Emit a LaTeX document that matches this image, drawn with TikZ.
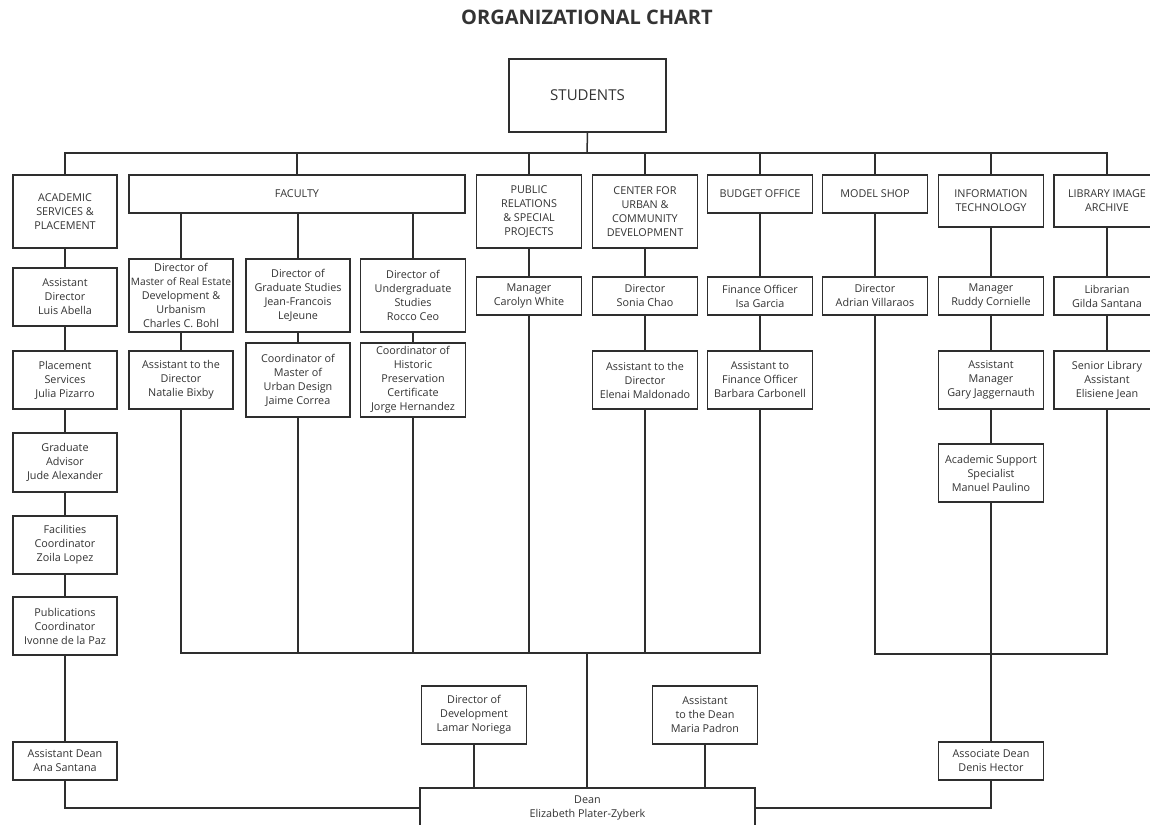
\documentclass[tikz,border=0pt]{standalone}
\usepackage{fontspec}
\setmainfont{Open Sans}
\definecolor{ln}{HTML}{2E2E2E}
\definecolor{tx}{HTML}{333333}
\newcommand\bxfont{\fontsize{10.8}{14}\selectfont}
\newcommand\stfont{\fontsize{15}{18}\selectfont}
\newcommand\ttlfont{\fontsize{20}{24}\selectfont\bfseries}
\tikzset{
  box/.style={draw=ln, line width=1.5pt, fill=white, align=center, inner sep=0pt,
    text=tx, font=\bxfont},
  conn/.style={draw=ln, line width=1.5pt}
}
\begin{document}
\begin{tikzpicture}[x=1pt,y=-1pt]
\useasboundingbox (0,0) rectangle (1150,824);
\clip (0,0) rectangle (1150,824);
\fill[white] (0,0) rectangle (1150,824);

\node[text=tx, font=\ttlfont] (title) at (587,17) {ORGANIZATIONAL CHART};

\coordinate (topbus) at (587,153);
\coordinate (midbus) at (587,653);
\coordinate (rbus) at (991,654);

\node[box, font=\stfont, minimum width=157, minimum height=73] (students) at (587.5,95.5) {STUDENTS};

\node[box, minimum width=104, minimum height=73] (acad) at (65,211.5) {ACADEMIC\\SERVICES \&\\PLACEMENT};
\node[box, minimum width=336, minimum height=38] (faculty) at (297,194) {FACULTY};
\node[box, minimum width=105, minimum height=73] (pr) at (529,211.5) {PUBLIC\\RELATIONS\\\& SPECIAL\\PROJECTS};
\node[box, minimum width=105, minimum height=73] (cud) at (645,211.5) {CENTER FOR\\URBAN \&\\COMMUNITY\\DEVELOPMENT};
\node[box, minimum width=105, minimum height=38] (budget) at (760,194) {BUDGET OFFICE};
\node[box, minimum width=105, minimum height=38] (model) at (875,194) {MODEL SHOP};
\node[box, minimum width=105, minimum height=52] (it) at (991,201) {INFORMATION\\TECHNOLOGY};
\node[box, minimum width=106, minimum height=52] (lib) at (1107,201) {LIBRARY IMAGE\\ARCHIVE};

\node[box, minimum width=104, minimum height=58] (luis) at (65,297) {Assistant\\Director\\Luis Abella};
\node[box, minimum width=104, minimum height=73] (d1) at (181,295.5) {Director of\\{\fontsize{10.2}{14}\selectfont Master of Real Estate}\\Development \&\\Urbanism\\Charles C. Bohl};
\node[box, minimum width=104, minimum height=73] (d2) at (298,295.5) {Director of\\Graduate Studies\\Jean-Francois\\LeJeune};
\node[box, minimum width=105, minimum height=73] (d3) at (413,295.5) {Director of\\Undergraduate\\Studies\\Rocco Ceo};
\node[box, minimum width=105, minimum height=38] (carolyn) at (529,296) {Manager\\Carolyn White};
\node[box, minimum width=105, minimum height=38] (sonia) at (645,296) {Director\\Sonia Chao};
\node[box, minimum width=105, minimum height=38] (isa) at (760,296) {Finance Officer\\Isa Garcia};
\node[box, minimum width=105, minimum height=38] (adrian) at (875,296) {Director\\Adrian Villaraos};
\node[box, minimum width=105, minimum height=38] (ruddy) at (991,296) {Manager\\Ruddy Cornielle};
\node[box, minimum width=106, minimum height=38] (gilda) at (1107,296) {Librarian\\Gilda Santana};

\node[box, minimum width=104, minimum height=58] (julia) at (65,380) {Placement\\Services\\Julia Pizarro};
\node[box, minimum width=104, minimum height=58] (natalie) at (181,380) {Assistant to the\\Director\\Natalie Bixby};
\node[box, minimum width=104, minimum height=74] (coord1) at (298,380) {Coordinator of\\Master of\\Urban Design\\Jaime Correa};
\node[box, minimum width=105, minimum height=74] (coord2) at (413,380) {Coordinator of\\Historic\\Preservation\\Certificate\\Jorge Hernandez};
\node[box, minimum width=105, minimum height=58] (elenai) at (645,380) {Assistant to the\\Director\\Elenai Maldonado};
\node[box, minimum width=105, minimum height=58] (barbara) at (760,380) {Assistant to\\Finance Officer\\Barbara Carbonell};
\node[box, minimum width=105, minimum height=58] (gary) at (991,380) {Assistant\\Manager\\Gary Jaggernauth};
\node[box, minimum width=106, minimum height=58] (senior) at (1107,380) {Senior Library\\Assistant\\Elisiene Jean};

\node[box, minimum width=104, minimum height=59] (jude) at (65,462.5) {Graduate\\Advisor\\Jude Alexander};
\node[box, minimum width=104, minimum height=58] (zoila) at (65,545) {Facilities\\Coordinator\\Zoila Lopez};
\node[box, minimum width=104, minimum height=58] (ivonne) at (65,626) {Publications\\Coordinator\\Ivonne de la Paz};
\node[box, minimum width=105, minimum height=58] (manuel) at (991,473) {Academic Support\\Specialist\\Manuel Paulino};

\node[box, minimum width=105, minimum height=58] (lamar) at (474,715) {Director of\\Development\\Lamar Noriega};
\node[box, minimum width=105, minimum height=58] (maria) at (705,715) {Assistant\\to the Dean\\Maria Padron};
\node[box, minimum width=104, minimum height=38] (ana) at (65,761) {Assistant Dean\\Ana Santana};
\node[box, minimum width=105, minimum height=38] (denis) at (991,761) {Associate Dean\\Denis Hector};
\node[box, minimum width=335, minimum height=40] (dean) at (587.5,808) {Dean\\Elizabeth Plater-Zyberk};

% connectors
\draw[conn] (students.south) -- (topbus);
\foreach \n in {acad,faculty,pr,cud,budget,model,it,lib}
  \draw[conn] (\n.north) |- (topbus);

\foreach \n in {d1,d2,d3}
  \draw[conn] (\n.north |- faculty.south) -- (\n.north);
\draw[conn] (d1.south) -- (natalie.north);
\draw[conn] (d2.south) -- (coord1.north);
\draw[conn] (d3.south) -- (coord2.north);
\draw[conn] (pr.south) -- (carolyn.north);
\draw[conn] (cud.south) -- (sonia.north);
\draw[conn] (sonia.south) -- (elenai.north);
\draw[conn] (budget.south) -- (isa.north);
\draw[conn] (isa.south) -- (barbara.north);
\foreach \n in {natalie,coord1,coord2,carolyn,elenai,barbara}
  \draw[conn] (\n.south) |- (midbus);
\draw[conn] (midbus) -- (midbus |- dean.north);
\draw[conn] (lamar.south) -- (lamar.south |- dean.north);
\draw[conn] (maria.south) -- (maria.south |- dean.north);

\draw[conn] (acad.south) -- (luis.north);
\draw[conn] (luis.south) -- (julia.north);
\draw[conn] (julia.south) -- (jude.north);
\draw[conn] (jude.south) -- (zoila.north);
\draw[conn] (zoila.south) -- (ivonne.north);
\draw[conn] (ivonne.south) -- (ana.north);
\draw[conn] (ana.south) |- (dean.west);

\draw[conn] (model.south) -- (adrian.north);
\draw[conn] (adrian.south) |- (rbus);
\draw[conn] (it.south) -- (ruddy.north);
\draw[conn] (ruddy.south) -- (gary.north);
\draw[conn] (gary.south) -- (manuel.north);
\draw[conn] (manuel.south) -- (denis.north);
\draw[conn] (lib.south) -- (gilda.north);
\draw[conn] (gilda.south) -- (senior.north);
\draw[conn] (senior.south) |- (rbus);
\draw[conn] (denis.south) |- (dean.east);
\end{tikzpicture}
\end{document}
